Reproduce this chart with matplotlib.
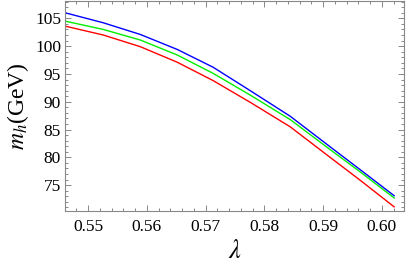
import matplotlib
matplotlib.use("Agg")
import matplotlib.pyplot as plt
from matplotlib.ticker import MultipleLocator

# lambda values and Higgs mass curves (GeV)
lam = [0.5461, 0.5526, 0.5589, 0.5652, 0.5713, 0.5776, 0.5844, 0.5912, 0.5963, 0.6021]
mh_blue = [106.0, 104.2, 102.1, 99.4, 96.2, 92.0, 87.4, 81.9, 77.8, 73.1]
mh_green = [104.5, 103.0, 101.1, 98.4, 95.1, 91.2, 86.8, 81.4, 77.4, 72.7]
mh_red = [103.6, 102.0, 99.9, 97.1, 93.8, 89.9, 85.5, 80.0, 75.9, 71.1]

plt.rcParams['font.family'] = 'serif'
plt.rcParams['font.serif'] = ['Liberation Serif', 'DejaVu Serif']
plt.rcParams['mathtext.fontset'] = 'stix'

fig = plt.figure(figsize=(4.07, 2.73), dpi=100)
ax = fig.add_axes([0.160, 0.227, 0.833, 0.771])

ax.plot(lam, mh_blue, color='#0000ff', lw=1.0)
ax.plot(lam, mh_green, color='#00ee00', lw=1.0)
ax.plot(lam, mh_red, color='#ff0000', lw=1.0)

ax.set_xlim(0.5461, 0.6038)
ax.set_ylim(70.35, 108.2)

ax.xaxis.set_major_locator(MultipleLocator(0.01))
ax.xaxis.set_minor_locator(MultipleLocator(0.002))
ax.yaxis.set_major_locator(MultipleLocator(5))
ax.yaxis.set_minor_locator(MultipleLocator(1))
ax.xaxis.set_major_formatter(plt.FuncFormatter(lambda v, p: f"{v:.2f}"))
ax.yaxis.set_major_formatter(plt.FuncFormatter(lambda v, p: f"{v:.0f}"))

for s in ax.spines.values():
    s.set_color('#888888')
    s.set_linewidth(0.8)
ax.tick_params(which='both', direction='in', top=True, right=True, color='#888888',
               labelsize=12.5, width=0.7)
ax.tick_params(which='major', length=4)
ax.tick_params(which='minor', length=2.2)
ax.tick_params(axis='x', pad=6)
ax.tick_params(axis='y', pad=3)
for lbl in ax.get_xticklabels() + ax.get_yticklabels():
    lbl.set_fontfamily('Liberation Serif')

ax.set_xlabel(r'$\lambda$', fontsize=19, labelpad=3)
ax.set_ylabel(r'$m_h$(GeV)', fontsize=17, labelpad=3)

fig.savefig('out.png', dpi=100)
